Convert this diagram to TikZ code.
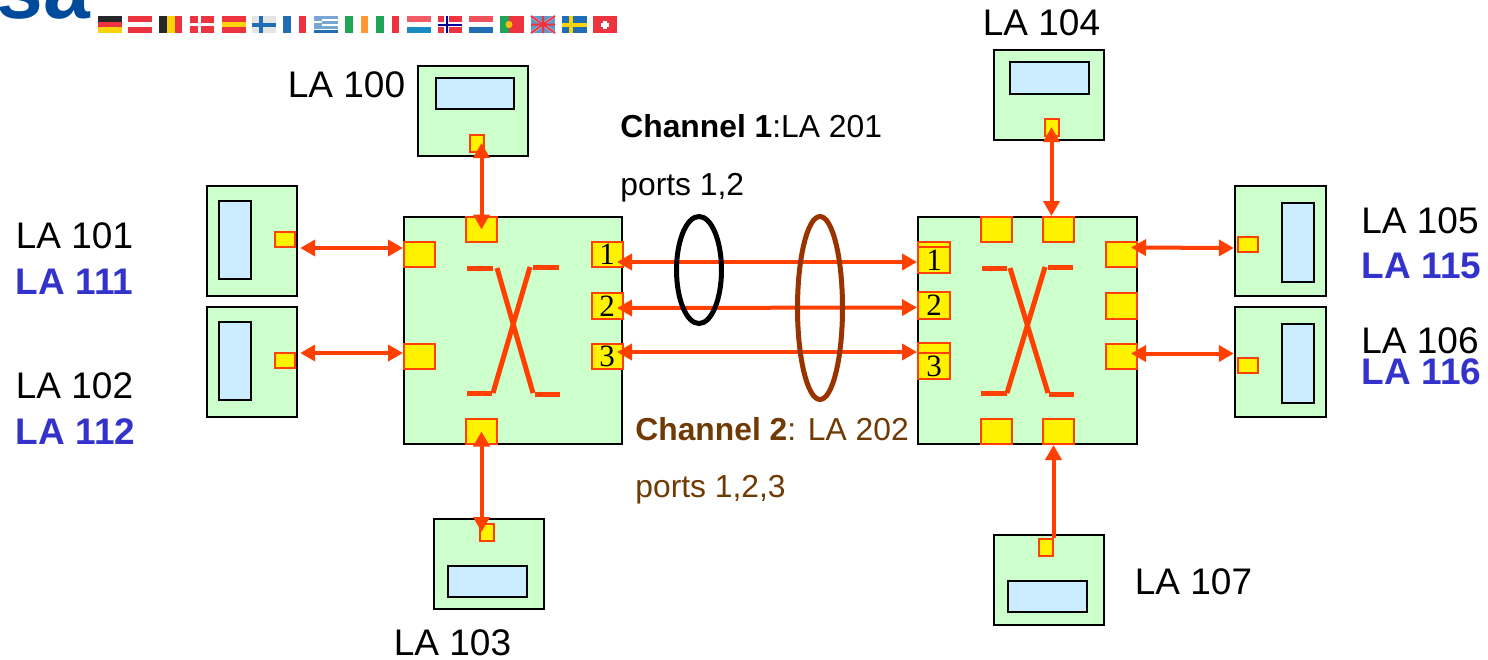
\documentclass[tikz,border=0pt]{standalone}
\usepackage{fontspec}
\setmainfont{Liberation Sans}
\newfontfamily\numfont{Liberation Serif}
\usetikzlibrary{arrows.meta,shapes.geometric}
\definecolor{boxgreen}{HTML}{CCFFCC}
\definecolor{screenblue}{HTML}{CCECFF}
\definecolor{linkred}{HTML}{FF4000}
\definecolor{chanbrown}{HTML}{993300}
\definecolor{textbrown}{HTML}{703A05}
\definecolor{labelblue}{HTML}{3333CC}
\definecolor{logoblue}{HTML}{004A9C}
\definecolor{flagred}{HTML}{EE3340}
\definecolor{flagblue}{HTML}{1F6DB5}
\definecolor{flaggreen}{HTML}{1FA555}
\definecolor{flagyellow}{HTML}{FBD30A}
\tikzset{
	unit/.style={draw=black,fill=boxgreen,line width=1.2pt,inner sep=0pt},
	screen/.style={draw=black,fill=screenblue,line width=1.2pt,inner sep=0pt},
	port/.style={draw=linkred,fill=yellow,line width=1pt,inner sep=0pt,text=black,font=\numfont\fontsize{15.5}{16}\selectfont},
	bigport/.style={port,minimum width=15.5pt,minimum height=12.5pt},
	vport/.style={port,minimum width=7pt,minimum height=8.5pt},
	hport/.style={port,minimum width=10pt,minimum height=7.5pt},
	link/.style={draw=linkred,line width=2pt,{Triangle[width=8pt,length=7.5pt]}-{Triangle[width=8pt,length=7.5pt]}},
	uplink/.style={draw=linkred,line width=2pt,-{Triangle[width=8pt,length=7.5pt]}},
	xbar/.style={draw=linkred,line width=2.5pt},
	chanring/.style={line width=2.5pt,ellipse,minimum width=22.5pt,inner sep=0pt},
	lalabel/.style={anchor=base west,inner sep=0pt,font=\fontsize{18.5}{20}\selectfont},
	lalabelb/.style={lalabel,text=labelblue,font=\bfseries\fontsize{18.5}{20}\selectfont},
	chantext/.style={anchor=base west,inner sep=0pt,font=\fontsize{15.9}{18}\selectfont}
}
\newcommand{\flagH}[4]{\fill[#2] (#1,16) rectangle ++(23.5,5.7);\fill[#3] (#1,21.7) rectangle ++(23.5,5.6);\fill[#4] (#1,27.3) rectangle ++(23.5,5.7);}
\newcommand{\flagV}[4]{\fill[#2] (#1,16) rectangle ++(7.8,17);\fill[#3] (#1+7.8,16) rectangle ++(7.8,17);\fill[#4] (#1+15.6,16) rectangle ++(7.8,17);}
\begin{document}
\begin{tikzpicture}[x=0.5pt,y=-0.5pt]
	\useasboundingbox (0,0) rectangle (1488,659);
	\begin{scope}
		\clip (0,0) rectangle (1488,659);
		\node[anchor=base west,inner sep=0pt,text=logoblue,font=\bfseries\fontsize{42}{42}\selectfont] (logo) at (-4,18) {sa};%Rest vom Logo
	\end{scope}
	%Flaggen
	\flagH{98}{black!85}{flagred}{flagyellow}
	\flagH{128}{flagred}{white}{flagred}
	\flagV{159}{black!85}{flagyellow}{flagred}
	\fill[flagred] (190,16) rectangle ++(23.5,17);\fill[white] (198,16) rectangle ++(3,17);\fill[white] (190,23) rectangle ++(23.5,3);%Daenemark
	\flagH{222}{flagred}{flagyellow}{flagred}
	\fill[black!10] (252,16) rectangle ++(23.5,17);\fill[flagblue] (259,16) rectangle ++(4,17);\fill[flagblue] (252,22.5) rectangle ++(23.5,4);%Finnland
	\flagV{283}{flagblue}{white}{flagred}
	\fill[flagblue!60] (314,16) rectangle ++(23.5,13);\fill[white] (322,19) rectangle ++(15.5,2);\fill[white] (322,24) rectangle ++(15.5,2);\fill[white] (314,21) rectangle ++(8,2);\fill[flagblue] (314,30) rectangle ++(23.5,3);%Griechenland
	\flagV{345}{flaggreen}{white}{orange!80}
	\flagV{376}{flaggreen}{white}{flagred}
	\flagH{407}{flagred!80}{white}{flagblue!80!cyan}
	\fill[flagred] (438,16) rectangle ++(23.5,17);\fill[white] (444,16) rectangle ++(5,17);\fill[white] (438,22) rectangle ++(23.5,5);\fill[blue!60!black] (445.5,16) rectangle ++(2,17);\fill[blue!60!black] (438,23.5) rectangle ++(23.5,2);%Norwegen
	\flagH{469}{flagred!85}{white}{flagblue}
	\fill[flaggreen] (500,16) rectangle ++(9,17);\fill[flagred] (509,16) rectangle ++(14.5,17);\fill[flagyellow!80!orange] (509,24.5) circle (3.5);%Portugal
	\fill[flagblue!70] (531,16) rectangle ++(24,17);\draw[white,line width=1.2pt] (531,16) -- (555,33) (531,33) -- (555,16);\draw[flagred,line width=1pt] (531,16) -- (555,33) (531,33) -- (555,16) (543,16) -- (543,33) (531,24.5) -- (555,24.5);%UK
	\fill[flagblue] (562,16) rectangle ++(24.5,17);\fill[flagyellow] (569,16) rectangle ++(4,17);\fill[flagyellow] (562,22.5) rectangle ++(24.5,4);%Schweden
	\fill[flagred] (593,16) rectangle ++(23.5,17);\fill[white] (603,20.5) rectangle ++(4,8);\fill[white] (601,22.5) rectangle ++(8,4);%Schweiz
	%linker Schalter
	\node[unit,minimum width=109pt,minimum height=113.5pt] (swL) at (513,330.5) {};
	\node[bigport] (lTop) at (481.5,229.5) {};
	\node[bigport] (lUp) at (419.5,254.5) {};
	\node[bigport] (lDown) at (419.5,356) {};
	\node[bigport] (lBot) at (481.5,431.5) {};
	\node[bigport] (lOne) at (607,254.5) {1};
	\node[bigport,minimum height=13pt] (lTwo) at (607,306) {2};
	\node[bigport] (lThree) at (607,356) {3};
	\draw[xbar] (467,268) -- (493,268);
	\draw[xbar] (533,267) -- (559,267);
	\draw[xbar] (467,393) -- (492,393);
	\draw[xbar] (535,394) -- (560,394);
	\draw[xbar] (497,268) -- (533,393);
	\draw[xbar] (530,267) -- (493,393);
	%rechter Schalter
	\node[unit,minimum width=109.5pt,minimum height=113.5pt] (swR) at (1027.5,330.5) {};
	\node[bigport] (rTopA) at (996.5,229.5) {};
	\node[bigport] (rTopB) at (1058.5,229.5) {};
	\node[bigport] (rBotA) at (996.5,431.5) {};
	\node[bigport] (rBotB) at (1058.5,431.5) {};
	\node[bigport] (rUp) at (1121,254.5) {};
	\node[bigport,minimum height=13pt] (rMid) at (1121,306) {};
	\node[bigport] (rDown) at (1121,356) {};
	\node[port,minimum width=16pt,minimum height=15.5pt] (rBackOne) at (934,257.5) {};
	\node[port,minimum width=16pt,minimum height=13pt] (rOne) at (934,260) {1};
	\node[bigport,minimum width=16pt,minimum height=13.5pt] (rTwo) at (934,305.5) {2};
	\node[port,minimum width=16pt,minimum height=18pt] (rBackThree) at (934,361) {};
	\node[port,minimum width=16pt,minimum height=13pt] (rThree) at (934,366) {3};
	\draw[xbar] (982,268) -- (1007,268);
	\draw[xbar] (1048,267) -- (1073,267);
	\draw[xbar] (981,393) -- (1007,393);
	\draw[xbar] (1049,394) -- (1074,394);
	\draw[xbar] (1010,268) -- (1048,393);
	\draw[xbar] (1045,267) -- (1007,393);
	%Terminals oben und unten
	\node[unit,minimum width=55pt,minimum height=45pt] (la100) at (473,111) {};
	\node[screen,minimum width=39pt,minimum height=15.5pt] (scr100) at (475,93.5) {};
	\node[vport] (p100) at (476.5,143) {};
	\node[unit,minimum width=55pt,minimum height=45pt] (la103) at (489,564) {};
	\node[screen,minimum width=39.5pt,minimum height=15.5pt] (scr103) at (487.5,581.5) {};
	\node[vport] (p103) at (486.5,532) {};
	\node[unit,minimum width=55pt,minimum height=45pt] (la104) at (1049,95) {};
	\node[screen,minimum width=39.5pt,minimum height=16pt] (scr104) at (1049.5,78) {};
	\node[vport] (p104) at (1051.5,127) {};
	\node[unit,minimum width=55pt,minimum height=45pt] (la107) at (1049,580) {};
	\node[screen,minimum width=39.5pt,minimum height=15.5pt] (scr107) at (1047.5,596.5) {};
	\node[vport] (p107) at (1045.5,547) {};
	%Terminals links
	\node[unit,minimum width=45pt,minimum height=55pt] (la101) at (252,241) {};
	\node[screen,minimum width=16pt,minimum height=39pt] (scr101) at (235,240) {};
	\node[hport] (p101) at (284.5,239) {};
	\node[unit,minimum width=45pt,minimum height=55pt] (la102) at (252,362) {};
	\node[screen,minimum width=16pt,minimum height=39pt] (scr102) at (235,361) {};
	\node[hport] (p102) at (284.5,360) {};
	%Terminals rechts
	\node[unit,minimum width=45.5pt,minimum height=55pt] (la105) at (1280.5,241) {};
	\node[screen,minimum width=16pt,minimum height=39.5pt] (scr105) at (1298,242.5) {};
	\node[hport] (p105) at (1248,244.5) {};
	\node[unit,minimum width=45.5pt,minimum height=55pt] (la106) at (1280.5,362) {};
	\node[screen,minimum width=16pt,minimum height=39.5pt] (scr106) at (1298,363.5) {};
	\node[hport] (p106) at (1248,365) {};
	%Verbindungen
	\draw[link] (lTop.center |- p100.center) -- (lTop.center);
	\draw[link] (lBot.center) -- (lBot.center |- p103.center);
	\draw[link] (p104.center) -- (p104.center |- rTopB.north);
	\draw[uplink] (p107.north east) -- (p107.north east |- rBotB.south);
	\draw[link] ([xshift=1pt,yshift=-3.5pt]la101.east) -- ([yshift=3.25pt]lUp.west);
	\draw[link] ([xshift=1pt,yshift=4.5pt]la102.east) -- ([yshift=1.5pt]lDown.west);
	\draw[link] ([xshift=5pt,yshift=3.5pt]rUp.center) -- ([yshift=-3.5pt]la105.west);
	\draw[link] ([xshift=5pt,yshift=1.25pt]rDown.center) -- ([yshift=4.25pt]la106.west);
	\draw[link] ([xshift=5pt,yshift=-1pt]lOne.center |- rOne.west) -- ([yshift=-1pt]rOne.west);
	\draw[link] ([xshift=5pt,yshift=-1pt]lTwo.center) -- ([yshift=-1pt]rTwo.west);
	\draw[link] ([xshift=5pt]lThree.center |- rThree.north west) -- (rThree.north west);
	%Kanaele
	\node[chanring,draw=black,minimum height=53.5pt] (chanA) at (699,270) {};
	\node[chanring,draw=chanbrown,minimum height=91.5pt] (chanB) at (820,308) {};
	\node[chantext] (chanAone) at (620,137) {\textbf{Channel 1}:LA 201};
	\node[chantext] (chanAtwo) at (620,195) {ports 1,2};
	\node[chantext,text=textbrown] (chanBone) at (635,440) {\textbf{Channel 2}: LA 202};
	\node[chantext,text=textbrown] (chanBtwo) at (635,497) {ports 1,2,3};
	%Beschriftung
	\node[lalabel] (txt100) at (287.5,97) {LA 100};
	\node[lalabel] (txt101) at (15.5,248) {LA 101};
	\node[lalabelb] (txt111) at (15.5,294) {LA 111};
	\node[lalabel] (txt102) at (15.5,398) {LA 102};
	\node[lalabelb] (txt112) at (15.5,444) {LA 112};
	\node[lalabel] (txt103) at (393.5,655) {LA 103};
	\node[lalabel] (txt104) at (982.5,35) {LA 104};
	\node[lalabel] (txt105) at (1361,233) {LA 105};
	\node[lalabelb] (txt115) at (1361.5,278) {LA 115};
	\node[lalabel] (txt106) at (1361,353) {LA 106};
	\node[lalabelb] (txt116) at (1361.5,384) {LA 116};
	\node[lalabel] (txt107) at (1134.5,594) {LA 107};
\end{tikzpicture}
\end{document}
